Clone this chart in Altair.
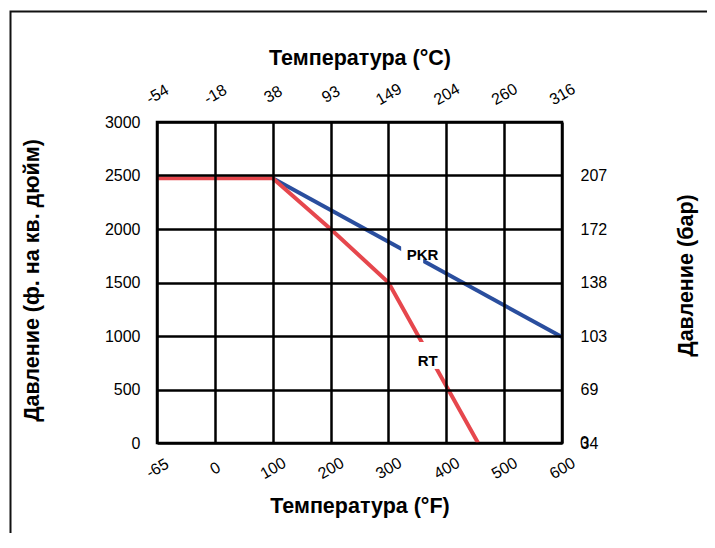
import altair as alt
import pandas as pd

# ---------------- data ----------------
temp_f_ticks = [-65, 0, 100, 200, 300, 400, 500, 600]
temp_f_labels = ["-65", "0", "100", "200", "300", "400", "500", "600"]
temp_c_labels = ["-54", "-18", "38", "93", "149", "204", "260", "316"]

psi_ticks = [0, 500, 1000, 1500, 2000, 2500, 3000]
bar_tick_psi = [0, 500, 1000, 1500, 2000, 2500]
bar_tick_labels = ["34", "69", "103", "138", "172", "207"]
bar_extra_psi = [0]
bar_extra_labels = ["0"]

rt_temp_f = [-65, 100, 200, 300, 455]
rt_psi = [2475, 2475, 2000, 1500, 0]
pkr_temp_f = [100, 600]
pkr_psi = [2475, 990]

label_names = ["PKR", "RT"]
label_temp_f = [359, 368]
label_psi = [1760, 766]
box_temp_f1 = [322, 344]
box_temp_f2 = [360, 391]
box_psi1 = [1673, 692]
box_psi2 = [1897, 944]

# ---------------- layout ----------------
W, H = 405, 321
FONT = "Liberation Sans"
RED = "#E6474D"
BLUE = "#2A4E9E"


def ternary(keys, labels):
    expr = "''"
    for k, v in reversed(list(zip(keys, labels))):
        expr = f"datum.value == {k} ? '{v}' : ({expr})"
    return expr


xscale = alt.Scale(domain=[-65, 0, 600], range=[0, W / 7, W], nice=False, zero=False)
yscale = alt.Scale(domain=[0, 3000], nice=False, zero=True)

rt_df = pd.DataFrame({"F": rt_temp_f, "psi": rt_psi})
pkr_df = pd.DataFrame({"F": pkr_temp_f, "psi": pkr_psi})
lab_df = pd.DataFrame({"name": label_names, "F": label_temp_f, "psi": label_psi})
box_df = pd.DataFrame({"F1": box_temp_f1, "F2": box_temp_f2, "p1": box_psi1, "p2": box_psi2})
extra_df = pd.DataFrame({"F": [temp_f_ticks[-1]] * len(bar_extra_psi), "psi": bar_extra_psi,
                         "t": bar_extra_labels})

common_axis = dict(labelFont=FONT, titleFont=FONT, labelColor="black", titleColor="black",
                   labelFontSize=16, titleFontSize=21.5, titleFontWeight="bold",
                   ticks=False, tickSize=0, domain=False)

frame = alt.Chart(pd.DataFrame({"a": [0]})).mark_rect(
    filled=False, stroke="#111111", strokeWidth=2
).encode(
    x=alt.value(-146.5), x2=alt.value(W + 300),
    y=alt.value(-110.5), y2=alt.value(H + 300),
)

pkr = alt.Chart(pkr_df).mark_line(color=BLUE, strokeWidth=4).encode(
    x=alt.X("F:Q", scale=xscale, axis=alt.Axis(
        orient="bottom", values=temp_f_ticks, labelExpr=ternary(temp_f_ticks, temp_f_labels),
        title="Температура (°F)", grid=True, gridColor="black", gridWidth=2.5, gridOpacity=1,
        labelAngle=330, labelAlign="center", labelBaseline="middle", labelPadding=25,
        titleY=63, titleBaseline="middle", zindex=1, labelOverlap=False, **common_axis)),
    y=alt.Y("psi:Q", scale=yscale, axis=alt.Axis(
        orient="left", values=psi_ticks, format="d",
        title="Давление (ф. на кв. дюйм)", grid=True, gridColor="black", gridWidth=2.5,
        gridOpacity=1, labelPadding=17, labelAlign="right", labelBaseline="middle",
        titleAngle=270, titleX=-125, titleY=158, titleBaseline="middle", titleAlign="center",
        zindex=1, labelOverlap=False, **common_axis)),
)

rt = alt.Chart(rt_df).mark_line(color=RED, strokeWidth=4).encode(
    x=alt.X("F:Q", scale=xscale, axis=None),
    y=alt.Y("psi:Q", scale=yscale, axis=None),
)

boxes = alt.Chart(box_df).mark_rect(color="white").encode(
    x=alt.X("F1:Q", scale=xscale, axis=None), x2="F2:Q",
    y=alt.Y("p1:Q", scale=yscale, axis=None), y2="p2:Q",
)

labels = alt.Chart(lab_df).mark_text(
    font=FONT, fontSize=15, fontWeight="bold", color="black", align="center", baseline="middle"
).encode(
    x=alt.X("F:Q", scale=xscale, axis=None),
    y=alt.Y("psi:Q", scale=yscale, axis=None),
    text="name:N",
)

extra = alt.Chart(extra_df).mark_text(
    font=FONT, fontSize=16, color="black", align="left", baseline="middle", dx=18
).encode(
    x=alt.X("F:Q", scale=xscale, axis=alt.Axis(
        orient="top", values=temp_f_ticks, labelExpr=ternary(temp_f_ticks, temp_c_labels),
        title="Температура (°C)", grid=False, labelAngle=330, labelAlign="center",
        labelBaseline="middle", labelPadding=28, titleY=-64, titleBaseline="middle",
        labelOverlap=False, **common_axis)),
    y=alt.Y("psi:Q", scale=yscale, axis=alt.Axis(
        orient="right", values=bar_tick_psi, labelExpr=ternary(bar_tick_psi, bar_tick_labels),
        title="Давление (бар)", grid=False, labelPadding=18, labelAlign="left",
        labelBaseline="middle", titleAngle=270, titleX=124, titleY=153,
        titleBaseline="middle", titleAlign="center", labelOverlap=False, **common_axis)),
    text="t:N",
)

chart = alt.layer(frame, pkr, rt, boxes, labels, extra).resolve_axis(
    x="independent", y="independent"
).properties(
    width=W, height=H,
    padding={"left": 149, "top": 114, "right": 145, "bottom": 90},
    autosize=alt.AutoSizeParams(type="none"),
    background="white",
).configure_view(stroke="black", strokeWidth=2.5)

chart.save("out.html", embed_options={"renderer": "svg", "actions": False})
